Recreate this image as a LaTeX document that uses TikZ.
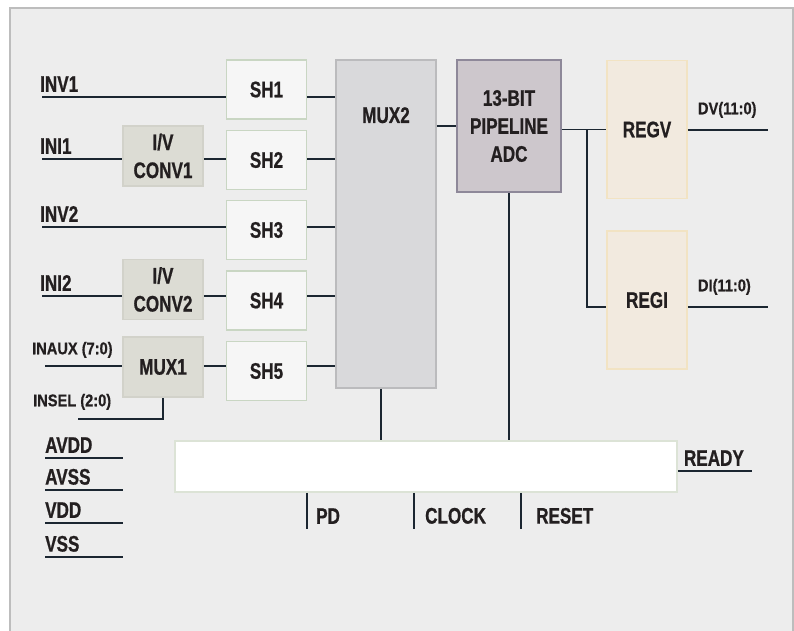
\documentclass[tikz,border=0pt]{standalone}
\usepackage{fontspec}
\setmainfont{Liberation Sans}[FakeStretch=0.76,BoldFeatures={FakeBold=0.8}]
\newfontfamily\smallfont{Liberation Sans}[FakeStretch=0.86,BoldFeatures={FakeBold=0.6}]
\usepackage{tikz}
\usepackage{xcolor}
\definecolor{panel}{HTML}{EDEDED}
\definecolor{panelline}{HTML}{BDBDBD}
\definecolor{wirec}{HTML}{1B2631}
\definecolor{txt}{HTML}{231F20}
\definecolor{shfill}{HTML}{F6F6F6}
\definecolor{shdraw}{HTML}{C9D6C3}
\definecolor{convfill}{HTML}{DCDCD4}
\definecolor{convdraw}{HTML}{D2D2CA}
\definecolor{muxfill}{HTML}{D9D9DB}
\definecolor{muxdraw}{HTML}{BBBBBD}
\definecolor{adcfill}{HTML}{CDC7CC}
\definecolor{adcdraw}{HTML}{8E8899}
\definecolor{regfill}{HTML}{F2EADF}
\definecolor{regdraw}{HTML}{F2E3C3}
\definecolor{ctrldraw}{HTML}{DCE3D6}

\begin{document}
\begin{tikzpicture}[x=1pt,y=-1pt,
  font=\bfseries\fontsize{22.5}{28}\selectfont,text=txt,
  blk/.style={draw,line width=1.6pt,minimum width=80pt,align=center,inner sep=0pt},
  shbox/.style={blk,fill=shfill,draw=shdraw,minimum height=59pt},
  convbox/.style={blk,fill=convfill,draw=convdraw,minimum height=60pt},
  regbox/.style={blk,fill=regfill,draw=regdraw,minimum height=138pt},
  wire/.style={draw=wirec,line width=1.6pt},
  lbl/.style={anchor=south west,inner sep=0pt,yshift=5pt},
  sml/.style={font=\smallfont\bfseries\fontsize{17}{20}\selectfont}]
\useasboundingbox (0,0) rectangle (794,630);
\fill[white] (0,0) rectangle (794,630);
\draw[panelline,fill=panel,line width=2pt] (10,8) rectangle (793,645);

% blocks
\node[shbox] (sh1) at (266.5,89.5) {SH1};
\node[shbox] (sh2) at (266.5,160) {SH2};
\node[shbox] (sh3) at (266.5,230) {SH3};
\node[shbox] (sh4) at (266.5,300.5) {SH4};
\node[shbox] (sh5) at (266.5,371) {SH5};
\node[convbox] (conv1) at (163,156) {I/V\\CONV1};
\node[convbox] (conv2) at (163,289.5) {I/V\\CONV2};
\node[convbox] (mux1) at (163,367) {MUX1};
\node[blk,fill=muxfill,draw=muxdraw,minimum width=100pt,minimum height=328pt] (mux2) at (386,224) {};
\node at ([yshift=-56pt]mux2.north) {MUX2};
\node[blk,fill=adcfill,draw=adcdraw,minimum width=104pt,minimum height=132pt] (adc) at (509,126) {13-BIT\\PIPELINE\\ADC};
\node[regbox] (regv) at (647,129.5) {REGV};
\node[regbox] (regi) at (647,300) {REGI};
\node[blk,fill=white,draw=ctrldraw,minimum width=502pt,minimum height=51pt] (ctrl) at (426,466.5) {};

% inputs
\coordinate (inv1) at (42,97);
\coordinate (ini1) at (42,159);
\coordinate (inv2) at (42,227);
\coordinate (ini2) at (42,296);
\coordinate (inaux) at (45,366);
\coordinate (insel) at (78,419);
\node[lbl] at ([xshift=-2pt]inv1) {INV1};
\node[lbl] at ([xshift=-2pt]ini1) {INI1};
\node[lbl] at ([xshift=-2pt]inv2) {INV2};
\node[lbl] at ([xshift=-2pt]ini2) {INI2};
\node[lbl,sml,yshift=3pt] at ([xshift=-13pt]inaux) {INAUX (7:0)};
\node[lbl,sml,yshift=4pt] at ([xshift=-45pt]insel) {INSEL (2:0)};
\draw[wire] (inv1) -- (inv1 -| sh1.west);
\draw[wire] (ini1) -- (ini1 -| conv1.west);
\draw[wire] (ini1 -| conv1.east) -- (ini1 -| sh2.west);
\draw[wire] (inv2) -- (inv2 -| sh3.west);
\draw[wire] (ini2) -- (ini2 -| conv2.west);
\draw[wire] (ini2 -| conv2.east) -- (ini2 -| sh4.west);
\draw[wire] (inaux) -- (inaux -| mux1.west);
\draw[wire] (inaux -| mux1.east) -- (inaux -| sh5.west);
\draw[wire] (insel) -| (mux1.south);
\draw[wire] (inv1 -| sh1.east) -- (inv1 -| mux2.west);
\draw[wire] (ini1 -| sh2.east) -- (ini1 -| mux2.west);
\draw[wire] (inv2 -| sh3.east) -- (inv2 -| mux2.west);
\draw[wire] (ini2 -| sh4.east) -- (ini2 -| mux2.west);
\draw[wire] (inaux -| sh5.east) -- (inaux -| mux2.west);

% data path
\draw[wire] (adc.west -| mux2.east) -- (adc.west);
\coordinate (br) at (587,129.5);
\coordinate (dv) at (768,130);
\coordinate (di) at (768,307);
\draw[wire] (adc.east |- br) -- (regv.west);
\draw[wire] (br) |- (di -| regi.west);
\draw[wire] (dv -| regv.east) -- (dv);
\draw[wire] (di -| regi.east) -- (di);
\node[lbl,sml,xshift=10pt,yshift=7pt] at (dv -| regv.east) {DV(11:0)};
\node[lbl,sml,xshift=10pt,yshift=7pt] at (di -| regi.east) {DI(11:0)};
\draw[wire] ([xshift=-5pt]mux2.south) -- ([xshift=-5pt]mux2.south |- ctrl.north);
\draw[wire] (adc.south) -- (adc.south |- ctrl.north);

% control
\coordinate (ready) at (752,471);
\draw[wire] (ready -| ctrl.east) -- (ready);
\node[lbl,xshift=6pt] at (ready -| ctrl.east) {READY};
\coordinate (pd) at (307,529);
\coordinate (clock) at (414,529);
\coordinate (reset) at (521,529);
\draw[wire] (pd |- ctrl.south) -- (pd);
\draw[wire] (clock |- ctrl.south) -- (clock);
\draw[wire] (reset |- ctrl.south) -- (reset);
\node[lbl,xshift=9pt,yshift=0pt] at (pd) {PD};
\node[lbl,xshift=11pt,yshift=0pt] at (clock) {CLOCK};
\node[lbl,xshift=15pt,yshift=0pt] at (reset) {RESET};

% supplies
\coordinate (avdd) at (45,458);
\coordinate (avss) at (45,490);
\coordinate (vdd) at (45,523);
\coordinate (vss) at (45,557);
\draw[wire] (avdd) -- +(78,0);
\draw[wire] (avss) -- +(78,0);
\draw[wire] (vdd) -- +(78,0);
\draw[wire] (vss) -- +(78,0);
\node[lbl] at (avdd) {AVDD};
\node[lbl] at (avss) {AVSS};
\node[lbl] at (vdd) {VDD};
\node[lbl] at (vss) {VSS};
\end{tikzpicture}
\end{document}
